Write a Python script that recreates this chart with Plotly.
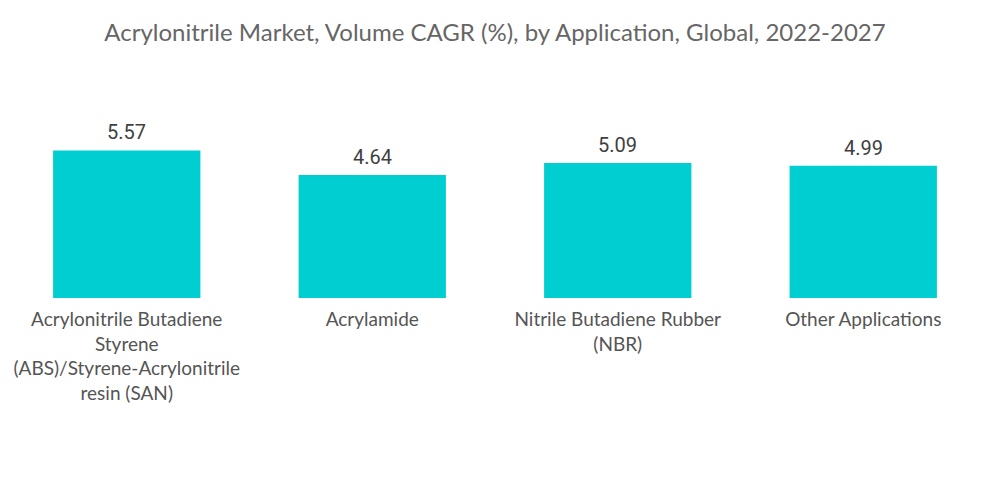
import plotly.graph_objects as go

categories = [
    "Acrylonitrile Butadiene<br>Styrene<br>(ABS)/Styrene-Acrylonitrile<br>resin (SAN)",
    "Acrylamide",
    "Nitrile Butadiene Rubber<br>(NBR)",
    "Other Applications",
]
values = [5.57, 4.64, 5.09, 4.99]
value_labels = ["5.57", "4.64", "5.09", "4.99"]

fig = go.Figure(
    go.Bar(
        x=categories,
        y=values,
        width=0.6,
        marker=dict(color="#00CED1", line=dict(width=0)),
        hoverinfo="skip",
    )
)

for cat, val, lab in zip(categories, values, value_labels):
    fig.add_annotation(
        x=cat,
        y=val,
        text=lab,
        showarrow=False,
        yanchor="bottom",
        yshift=4,
        font=dict(family="Roboto", size=20, color="#404040"),
    )

fig.update_layout(
    width=1000,
    height=504,
    paper_bgcolor="white",
    plot_bgcolor="white",
    margin=dict(l=4, r=14, t=139, b=206, autoexpand=False),
    title=dict(
        text="Acrylonitrile Market, Volume CAGR (%), by Application, Global, 2022-2027",
        x=0.495,
        xanchor="center",
        y=0.936,
        yanchor="middle",
        font=dict(family="Lato", size=24, color="#666666"),
    ),
    showlegend=False,
)
fig.update_xaxes(
    showgrid=False,
    showline=False,
    ticks="",
    ticklabelstandoff=8,
    automargin=False,
    tickfont=dict(family="Lato", size=19, color="#555555"),
)
fig.update_yaxes(visible=False, range=[0, 6])

fig.write_html(
    "out.html",
    config={"displayModeBar": False},
    post_script="document.body.style.margin='0';document.body.style.overflow='hidden';",
)
